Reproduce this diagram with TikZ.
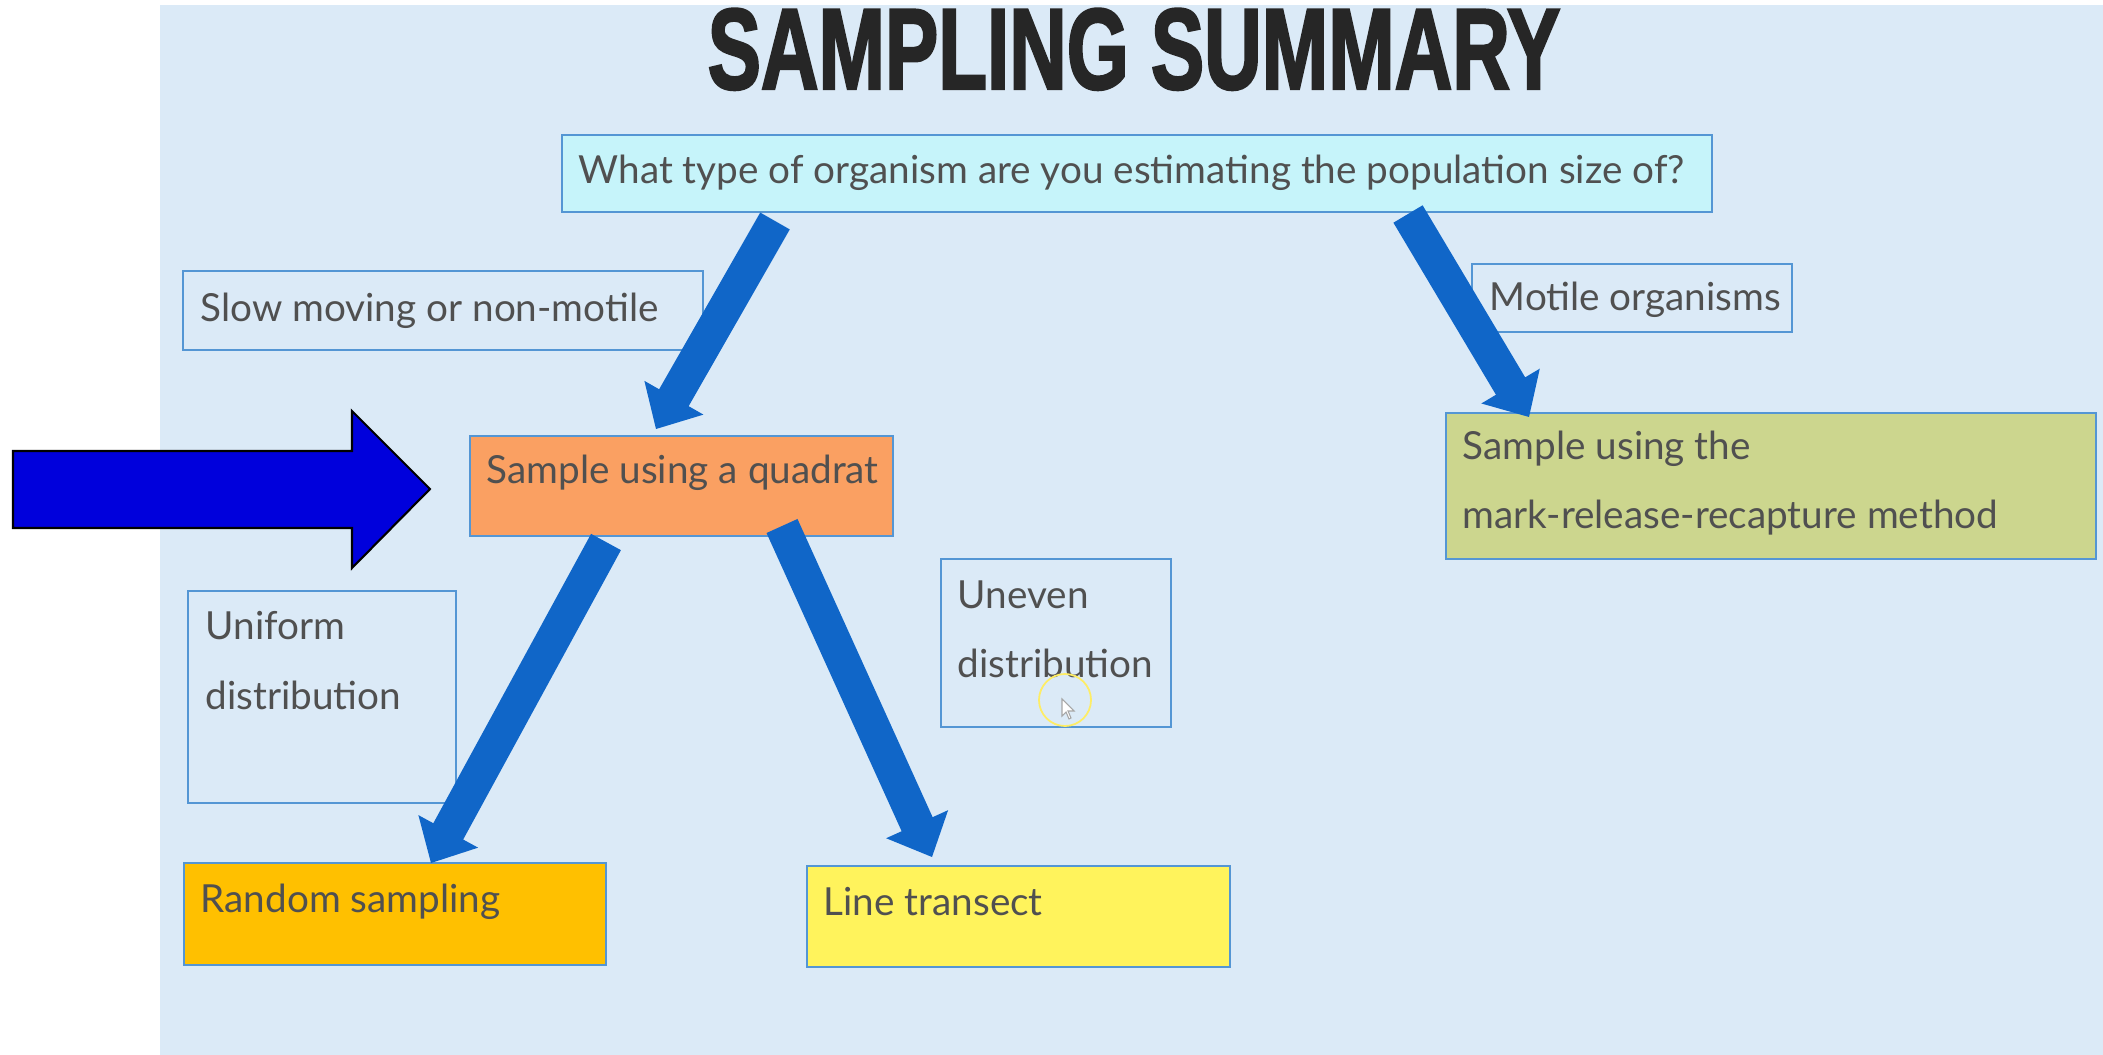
\documentclass[tikz,border=0pt]{standalone}
\usepackage{graphicx}
\usepackage{fontspec}
\setmainfont{Lato}
\newfontfamily\titlefont[FakeBold=2.5]{Liberation Sans}
\usetikzlibrary{calc}

\definecolor{slidebg}{RGB}{219,234,247}
\definecolor{qfill}{RGB}{198,244,250}
\definecolor{boxline}{RGB}{84,150,212}
\definecolor{quadfill}{RGB}{250,160,98}
\definecolor{goldfill}{RGB}{255,192,0}
\definecolor{yellowfill}{RGB}{255,243,92}
\definecolor{olivefill}{RGB}{204,214,142}
\definecolor{arrowblue}{RGB}{16,102,200}
\definecolor{pointerblue}{RGB}{0,0,220}
\definecolor{textgrey}{RGB}{80,80,80}
\definecolor{titlegrey}{RGB}{38,38,38}

% thick block arrow: shaft from #1, tip at #2
\newcommand\flowarrow[2]{%
  \coordinate (#1-h) at ($(#2)!0.36cm!(#1)$);
  \fill[arrowblue]
    ($(#1)!0.17cm!90:(#2)$) -- ($(#1-h)!0.17cm!90:(#2)$) --
    ($(#1-h)!0.34cm!90:(#2)$) -- (#2) --
    ($(#1-h)!0.34cm!-90:(#2)$) -- ($(#1-h)!0.17cm!-90:(#2)$) --
    ($(#1)!0.17cm!-90:(#2)$) -- cycle;
}

\begin{document}
\begin{tikzpicture}[x=0.01cm,y=-0.01cm,
  box/.style={draw=boxline, line width=0.57pt, inner sep=0pt, outer sep=0pt,
    anchor=north west},
  txt/.style={inner sep=0pt, text=textgrey, anchor=base west, align=left,
    font=\fontsize{11pt}{19.4pt}\selectfont}]

\useasboundingbox (0,0) rectangle (2103,1055);
\fill[slidebg] (160,5) rectangle (2103,1055);

% heading
\node[anchor=north, inner sep=0pt, text=titlegrey] (title) at (1134,8)
  {\resizebox{8.52cm}{0.80cm}{\titlefont\bfseries SAMPLING SUMMARY}};

% boxes
\node[box, fill=qfill, minimum width=11.49cm, minimum height=0.77cm] (q) at (562,135) {};
\node[box, minimum width=5.20cm, minimum height=0.79cm] (slow) at (183,271) {};
\node[box, minimum width=3.20cm, minimum height=0.68cm] (motile) at (1472,264) {};
\node[box, fill=quadfill, minimum width=4.23cm, minimum height=1.00cm] (quad) at (470,436) {};
\node[box, fill=olivefill, minimum width=6.50cm, minimum height=1.46cm] (mark) at (1446,413) {};
\node[box, minimum width=2.68cm, minimum height=2.12cm] (uniform) at (188,591) {};
\node[box, minimum width=2.30cm, minimum height=1.68cm] (uneven) at (941,559) {};
\node[box, fill=goldfill, minimum width=4.22cm, minimum height=1.02cm] (random) at (184,863) {};
\node[box, fill=yellowfill, minimum width=4.23cm, minimum height=1.01cm] (line) at (807,866) {};

% box texts (multi-line texts are placed by the baseline of their last line)
\node[txt] (qt) at (578,184) {What type of organism are you estimating the population size of?};
\node[txt] (slowt) at (200,322) {Slow moving or non-motile};
\node[txt] (motilet) at (1489,311) {Motile organisms};
\node[txt] (quadt) at (486,484) {Sample using a quadrat};
\node[txt] (markt) at (1462,528) {Sample using the\\mark-release-recapture method};
\node[txt, font=\fontsize{11pt}{19.9pt}\selectfont] (uniformt) at (205,709) {Uniform\\distribution};
\node[txt, font=\fontsize{11pt}{19.6pt}\selectfont] (uneventt) at (957,677) {Uneven\\distribution};
\node[txt] (randomt) at (200,912) {Random sampling};
\node[txt] (linet) at (823,915) {Line transect};

% arrow end points
\coordinate (a1) at (775,221);  \coordinate (a1e) at (656,429);
\coordinate (a2) at (1408,214); \coordinate (a2e) at (1529,417);
\coordinate (a3) at (606,542);  \coordinate (a3e) at (431,863);
\coordinate (a4) at (782,526);  \coordinate (a4e) at (932,857);
\flowarrow{a1}{a1e}
\flowarrow{a2}{a2e}
\flowarrow{a3}{a3e}
\flowarrow{a4}{a4e}

% large pointer arrow towards the quadrat box
\coordinate (pointer) at (430,489);
\draw[fill=pointerblue, draw=black, line width=0.6pt, line join=miter]
  (13,451) -- (352,451) -- (352,411) -- (pointer) -- (352,568) -- (352,528) -- (13,528) -- cycle;

% mouse cursor highlight
\coordinate (cursor) at (1062,699);
\draw[yellow!85!orange!60!white, line width=0.5pt] (1065,700) circle[radius=0.26cm];
\draw[fill=white, draw=gray!70, line width=0.3pt]
  (cursor) -- ++(0,17) -- ++(4,-4) -- ++(3,7) -- ++(2,-1) -- ++(-3,-7) -- ++(6,0) -- cycle;

\end{tikzpicture}
\end{document}
